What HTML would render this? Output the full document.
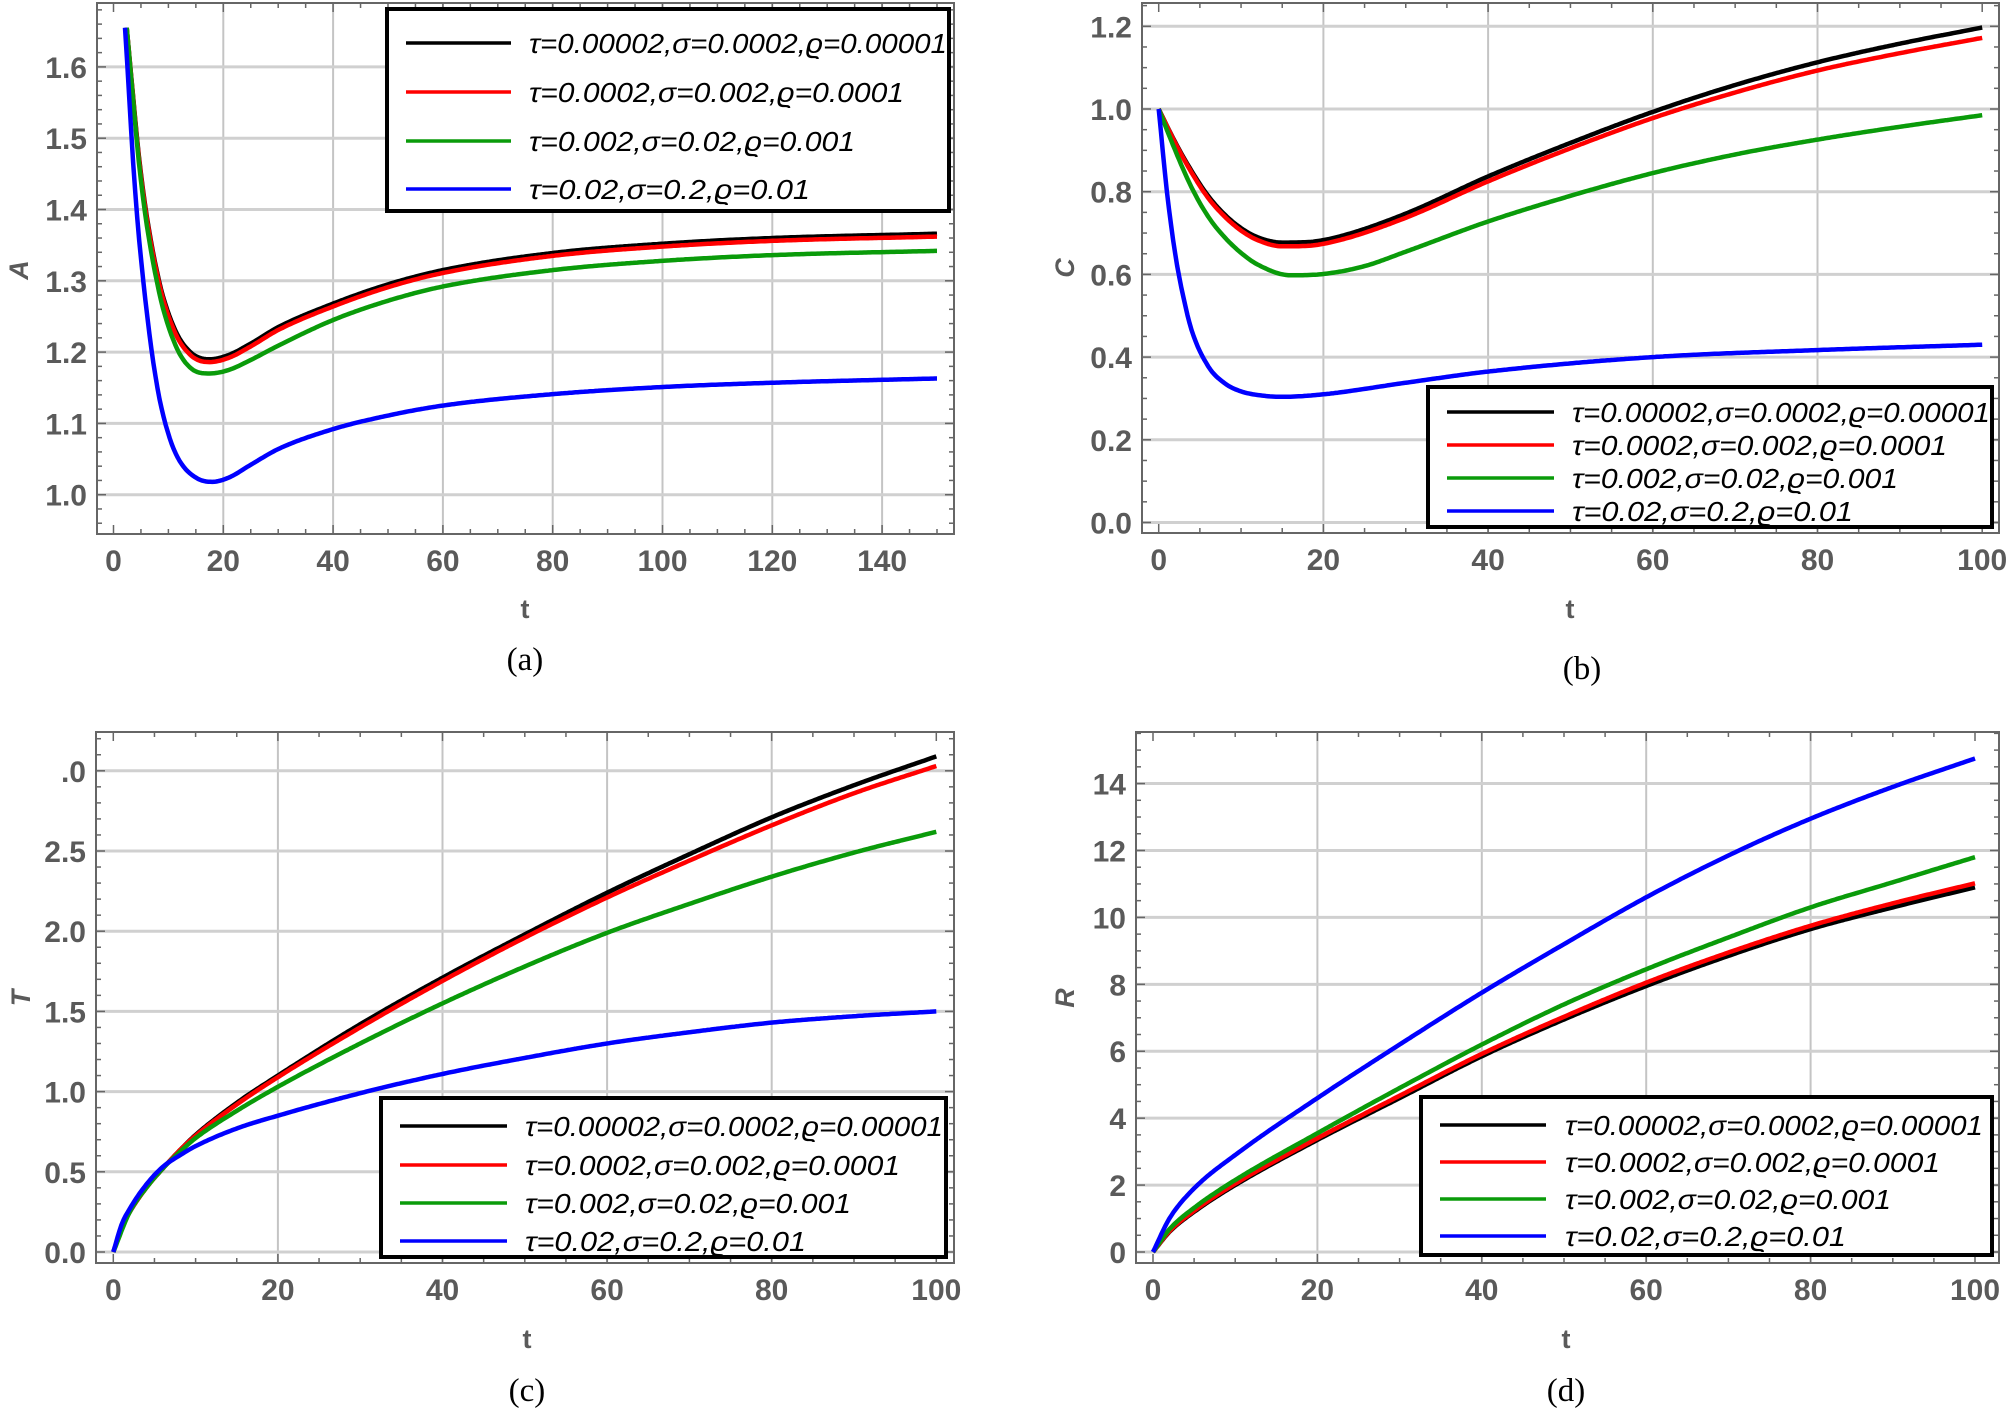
<!DOCTYPE html>
<html><head><meta charset="utf-8">
<style>
html,body{margin:0;padding:0;background:#fff;}
svg{display:block;}
.tl{font-family:"Liberation Sans Narrow","Liberation Sans",sans-serif;font-weight:bold;font-size:30px;fill:#5a5a5a;}
.ax{font-family:"Liberation Sans",sans-serif;font-weight:bold;font-size:27px;fill:#5a5a5a;}
.cap{font-family:"Liberation Serif",serif;font-size:33px;fill:#000;}
.lg{font-family:"Liberation Sans","DejaVu Sans",sans-serif;font-style:italic;font-size:28px;fill:#000;}
</style></head>
<body>
<svg id="s" width="2007" height="1410" viewBox="0 0 2007 1410" xmlns="http://www.w3.org/2000/svg">
<rect width="2007" height="1410" fill="#fff"/>
<g id="g"></g>
<text class="ax" transform="translate(28,270) rotate(-90)" text-anchor="middle" font-style="italic">A</text>
<text class="ax" transform="translate(1074,268) rotate(-90)" text-anchor="middle" font-style="italic">C</text>
<text class="ax" transform="translate(30,998) rotate(-90)" text-anchor="middle" font-style="italic">T</text>
<text class="ax" transform="translate(1074,998) rotate(-90)" text-anchor="middle" font-style="italic">R</text>
<text class="ax" x="525" y="618" text-anchor="middle">t</text>
<text class="ax" x="1570" y="618" text-anchor="middle">t</text>
<text class="ax" x="527" y="1348" text-anchor="middle">t</text>
<text class="ax" x="1566" y="1348" text-anchor="middle">t</text>
<text class="cap" x="525" y="670" text-anchor="middle">(a)</text>
<text class="cap" x="1582" y="679" text-anchor="middle">(b)</text>
<text class="cap" x="527" y="1401" text-anchor="middle">(c)</text>
<text class="cap" x="1566" y="1401" text-anchor="middle">(d)</text>
</svg>
<script>
var NS="http://www.w3.org/2000/svg";
var G=document.getElementById("g");
function el(t,a,txt){var e=document.createElementNS(NS,t);for(var k in a)e.setAttribute(k,a[k]);if(txt!==undefined)e.textContent=txt;G.appendChild(e);return e;}
function interp(pts){
 var n=pts.length,xs=pts.map(p=>p[0]),ys=pts.map(p=>p[1]),d=[],m=[];
 for(var i=0;i<n-1;i++)d.push((ys[i+1]-ys[i])/(xs[i+1]-xs[i]));
 m[0]=d[0];m[n-1]=d[n-2];
 for(i=1;i<n-1;i++){m[i]=(d[i-1]*d[i]<=0)?0:(d[i-1]+d[i])/2;}
 for(i=0;i<n-1;i++){if(d[i]==0){m[i]=0;m[i+1]=0;continue;}var a=m[i]/d[i],b=m[i+1]/d[i],s=a*a+b*b;if(s>9){var t=3/Math.sqrt(s);m[i]=t*a*d[i];m[i+1]=t*b*d[i];}}
 return function(x){var i=0;while(i<n-2&&x>xs[i+1])i++;var h=xs[i+1]-xs[i],t=(x-xs[i])/h,t2=t*t,t3=t2*t;
  return (2*t3-3*t2+1)*ys[i]+(t3-2*t2+t)*h*m[i]+(-2*t3+3*t2)*ys[i+1]+(t3-t2)*h*m[i+1];};
}
var L=["τ=0.00002,σ=0.0002,ϱ=0.00001","τ=0.0002,σ=0.002,ϱ=0.0001","τ=0.002,σ=0.02,ϱ=0.001","τ=0.02,σ=0.2,ϱ=0.01"];
var LW=[418,375,326,281];
var COL=["#000","#f00","#0a9b0a","#00f"];
function panel(P){
 var X=v=>P.x0+(v-P.xa)*P.xs, Y=v=>P.y0-(v-P.ya)*P.ys;
 P.xg.forEach(v=>el("line",{x1:X(v),x2:X(v),y1:P.t,y2:P.b,stroke:"#c4c4c4","stroke-width":2}));
 P.yg.forEach(v=>el("line",{x1:P.l,x2:P.r,y1:Y(v),y2:Y(v),stroke:"#d0d0d0","stroke-width":3}));
 for(var v=P.xmin;v<=P.xmax+1e-9;v+=P.xminor){var maj=Math.abs(v/P.xmajor-Math.round(v/P.xmajor))<1e-6;var len=maj?9:5;
  el("line",{x1:X(v),x2:X(v),y1:P.b,y2:P.b-len,stroke:"#666","stroke-width":1.5});
  el("line",{x1:X(v),x2:X(v),y1:P.t,y2:P.t+len,stroke:"#666","stroke-width":1.5});
  if(maj)el("text",{class:"tl",x:X(v),y:P.b+37,"text-anchor":"middle"},String(Math.round(v)));}
 for(v=P.ymin;v<=P.ymax+1e-9;v+=P.yminor){var maj2=Math.abs(v/P.ymajor-Math.round(v/P.ymajor))<1e-6;var len2=maj2?9:5;var yy=Y(v);
  if(yy<P.t||yy>P.b)continue;
  el("line",{x1:P.l,x2:P.l+len2,y1:yy,y2:yy,stroke:"#666","stroke-width":1.5});
  el("line",{x1:P.r,x2:P.r-len2,y1:yy,y2:yy,stroke:"#666","stroke-width":1.5});
  if(maj2){var s=P.fmt(v);el("text",{class:"tl",x:P.l-10,y:yy+11,"text-anchor":"end"},s);}}
 el("rect",{x:P.l,y:P.t,width:P.r-P.l,height:P.b-P.t,fill:"none",stroke:"#666","stroke-width":2});
 P.curves.forEach(function(c,k){var f=interp(c),x0=c[0][0],x1=c[c.length-1][0],d="";
  for(var i=0;i<=400;i++){var t=x0+(x1-x0)*i/400;d+=(i?"L":"M")+X(t).toFixed(1)+","+Y(f(t)).toFixed(1);}
  el("path",{d:d,fill:"none",stroke:COL[k],"stroke-width":4.5,"stroke-linejoin":"round"});});
 var g=P.lg;
 el("rect",{x:g.l,y:g.t,width:g.r-g.l,height:g.b-g.t,fill:"#fff",stroke:"#000","stroke-width":4});
 for(var i=0;i<4;i++){var ry=g.rows[i];
  el("line",{x1:g.l1,x2:g.l2,y1:ry,y2:ry,stroke:COL[i],"stroke-width":3.5});
  el("text",{class:"lg",x:g.tx,y:ry+10,textLength:LW[i],lengthAdjust:"spacingAndGlyphs"},L[i]);}
}
function f1(v){return v.toFixed(1);}
function f0(v){return String(Math.round(v));}
panel({l:97,r:954,t:3,b:534,x0:113.5,xa:0,xs:5.49,y0:494.7,ya:1.0,ys:713,
 xg:[20,40,60,80,100,120,140],yg:[1.0,1.1,1.2,1.3,1.4,1.5,1.6],xmin:0,xmax:150,xminor:5,xmajor:20,ymin:0.94,ymax:1.7,yminor:0.02,ymajor:0.1,fmt:f1,
 curves:[
 [[2.4,1.655],[5,1.45],[8,1.31],[11,1.235],[14,1.2],[17.5,1.19],[21,1.196],[25,1.212],[30,1.235],[40,1.268],[50,1.295],[60,1.315],[80,1.339],[100,1.352],[120,1.36],[150,1.366]],
 [[2.4,1.655],[5,1.447],[8,1.307],[11,1.231],[14,1.196],[17.5,1.186],[21,1.192],[25,1.208],[30,1.231],[40,1.264],[50,1.291],[60,1.311],[80,1.335],[100,1.348],[120,1.356],[150,1.362]],
 [[2.4,1.655],[5,1.44],[8,1.295],[11,1.215],[14,1.178],[17.5,1.17],[21,1.175],[25,1.189],[30,1.209],[40,1.245],[50,1.272],[60,1.292],[80,1.315],[100,1.328],[120,1.336],[150,1.342]],
 [[2.1,1.655],[4,1.42],[6,1.26],[8,1.15],[10,1.085],[12,1.048],[15,1.024],[18,1.018],[21,1.024],[25,1.042],[30,1.064],[40,1.092],[50,1.111],[60,1.125],[80,1.141],[100,1.151],[120,1.157],[150,1.163]]],
 lg:{l:387,r:949,t:9,b:211,l1:406,l2:511,tx:529,rows:[43,92,141,189]}});
panel({l:1142,r:1999,t:3,b:533,x0:1158.7,xa:0,xs:8.235,y0:522.5,ya:0,ys:413.5,
 xg:[20,40,60,80],yg:[0,0.2,0.4,0.6,0.8,1.0,1.2],xmin:0,xmax:100,xminor:5,xmajor:20,ymin:0,ymax:1.25,yminor:0.05,ymajor:0.2,fmt:f1,
 curves:[
 [[0,1],[2,0.92],[4,0.85],[6,0.79],[8,0.745],[10,0.712],[12,0.69],[15,0.677],[18,0.678],[22,0.692],[30,0.747],[40,0.837],[50,0.918],[60,0.993],[70,1.058],[80,1.113],[90,1.158],[100,1.197]],
 [[0,1],[2,0.918],[4,0.846],[6,0.785],[8,0.74],[10,0.706],[12,0.683],[15,0.668],[18,0.669],[22,0.683],[30,0.737],[40,0.825],[50,0.905],[60,0.978],[70,1.04],[80,1.093],[90,1.135],[100,1.172]],
 [[0,1],[2,0.9],[4,0.81],[6,0.74],[8,0.69],[10,0.652],[12,0.624],[16,0.598],[20,0.601],[25,0.62],[30,0.655],[40,0.728],[50,0.79],[60,0.845],[70,0.89],[80,0.926],[90,0.957],[100,0.985]],
 [[0,1],[1,0.8],[2,0.65],[3,0.545],[4,0.465],[6,0.378],[8,0.337],[10,0.317],[13,0.306],[15,0.304],[20,0.31],[30,0.338],[40,0.365],[60,0.4],[80,0.417],[100,0.43]]],
 lg:{l:1428,r:1992,t:387,b:527,l1:1447,l2:1554,tx:1572,rows:[412,445,478,511]}});
panel({l:96,r:954,t:732,b:1263,x0:113.3,xa:0,xs:8.23,y0:1252,ya:0,ys:160.4,
 xg:[20,40,60,80],yg:[0,0.5,1,1.5,2,2.5,3],xmin:0,xmax:100,xminor:5,xmajor:20,ymin:0,ymax:3.2,yminor:0.1,ymajor:0.5,fmt:function(v){return v>2.9?".0":v.toFixed(1);},
 curves:[
 [[0,0],[1,0.15],[2,0.25],[4,0.4],[6,0.52],[8,0.63],[10,0.73],[15,0.93],[20,1.1],[30,1.42],[40,1.71],[50,1.98],[60,2.24],[70,2.48],[80,2.71],[90,2.91],[100,3.09]],
 [[0,0],[1,0.15],[2,0.25],[4,0.4],[6,0.52],[8,0.63],[10,0.725],[15,0.92],[20,1.09],[30,1.4],[40,1.69],[50,1.96],[60,2.21],[70,2.44],[80,2.66],[90,2.86],[100,3.03]],
 [[0,0],[2,0.25],[4,0.4],[6,0.52],[8,0.62],[10,0.71],[15,0.88],[20,1.03],[30,1.3],[40,1.55],[50,1.78],[60,1.99],[70,2.17],[80,2.34],[90,2.49],[100,2.62]],
 [[0,0],[1,0.17],[2,0.27],[4,0.42],[6,0.53],[8,0.6],[10,0.66],[15,0.77],[20,0.85],[30,0.99],[40,1.11],[50,1.21],[60,1.3],[70,1.37],[80,1.43],[90,1.47],[100,1.5]]],
 lg:{l:381,r:946,t:1098,b:1257,l1:400,l2:507,tx:525,rows:[1126,1165,1203,1241]}});
panel({l:1136,r:1999,t:732,b:1263,x0:1153,xa:0,xs:8.22,y0:1252,ya:0,ys:33.46,
 xg:[20,40,60,80],yg:[0,2,4,6,8,10,12,14],xmin:0,xmax:100,xminor:5,xmajor:20,ymin:0,ymax:15.5,yminor:0.5,ymajor:2,fmt:f0,
 curves:[
 [[0,0],[2,0.6],[5,1.2],[10,2.0],[20,3.35],[30,4.6],[40,5.85],[50,6.95],[60,7.95],[70,8.85],[80,9.65],[90,10.3],[100,10.9]],
 [[0,0],[2,0.62],[5,1.23],[10,2.04],[20,3.4],[30,4.67],[40,5.92],[50,7.03],[60,8.05],[70,8.95],[80,9.75],[90,10.42],[100,11.02]],
 [[0,0],[2,0.68],[5,1.32],[10,2.15],[20,3.55],[30,4.9],[40,6.2],[50,7.4],[60,8.45],[70,9.4],[80,10.3],[90,11.05],[100,11.8]],
 [[0,0],[2,1.0],[5,1.9],[10,2.9],[20,4.6],[30,6.2],[40,7.75],[50,9.2],[60,10.6],[70,11.85],[80,12.95],[90,13.9],[100,14.75]]],
 lg:{l:1421,r:1992,t:1097,b:1255,l1:1440,l2:1546,tx:1565,rows:[1125,1162,1199,1236]}});
</script>
</body></html>
